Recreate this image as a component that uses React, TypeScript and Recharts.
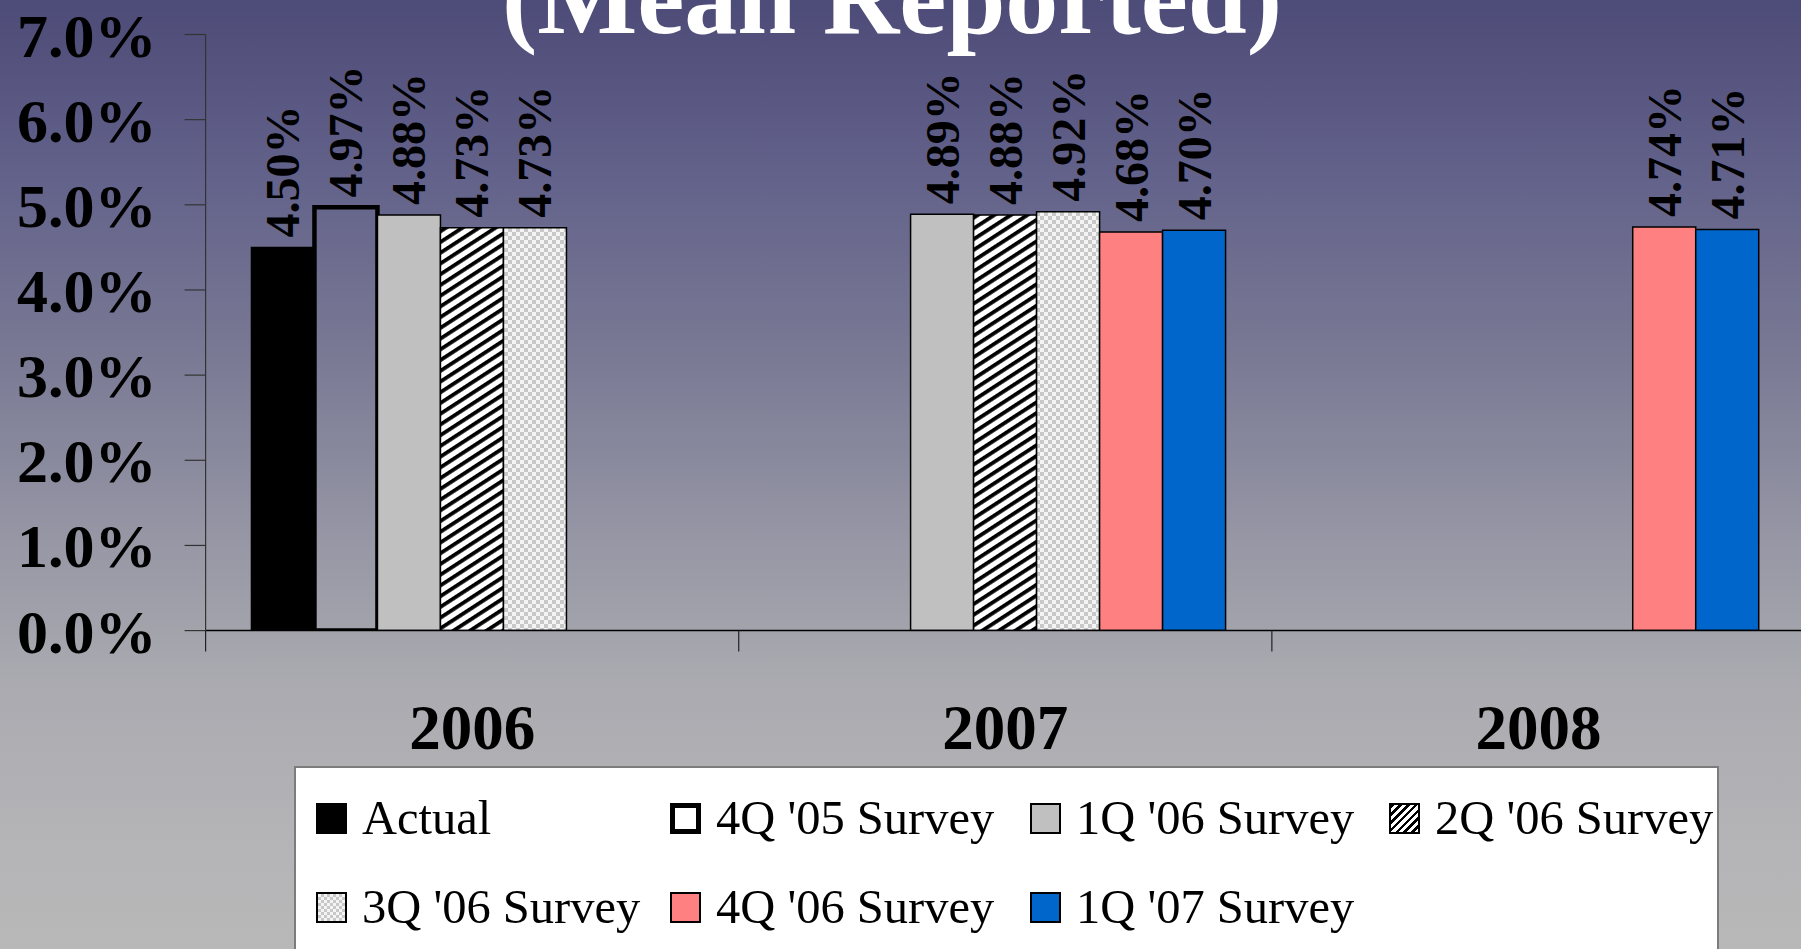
import React from 'react';
import { BarChart, Bar, XAxis, YAxis, Legend, LabelList } from 'recharts';

// ---- data ----
const categories = ['2006', '2007', '2008'];
const actual = [4.5, null, null];
const survey4Q05 = [4.97, null, null];
const survey1Q06 = [4.88, 4.89, null];
const survey2Q06 = [4.73, 4.88, null];
const survey3Q06 = [4.73, 4.92, null];
const survey4Q06 = [null, 4.68, 4.74];
const survey1Q07 = [null, 4.7, 4.71];
const seriesNames = [
  'Actual',
  "4Q '05 Survey",
  "1Q '06 Survey",
  "2Q '06 Survey",
  "3Q '06 Survey",
  "4Q '06 Survey",
  "1Q '07 Survey",
];
const yTicks = [0, 1, 2, 3, 4, 5, 6, 7];
const titleText = '(Mean Reported)';

const seriesValues = [actual, survey4Q05, survey1Q06, survey2Q06, survey3Q06, survey4Q06, survey1Q07];
const seriesKeys = seriesValues.map((_, i) => `s${i}`);
const chartData = categories.map((c, i) => {
  const row: Record<string, any> = { category: c };
  seriesValues.forEach((vals, j) => {
    row[seriesKeys[j]] = vals[i];
  });
  return row;
});

// ---- styles ----
const FONT = '"Liberation Serif", "Times New Roman", serif';
const seriesStyles = [
  { fill: '#000000', stroke: '#000000', strokeWidth: 1.5, swatchFill: '#000000', swatchBorder: 2 },
  { fill: 'none', stroke: '#000000', strokeWidth: 4.5, swatchFill: '#ffffff', swatchBorder: 5 },
  { fill: '#c0c0c0', stroke: '#000000', strokeWidth: 1.5, swatchFill: '#c0c0c0', swatchBorder: 2 },
  { fill: 'url(#hatchPat)', stroke: '#000000', strokeWidth: 1.5, swatchFill: 'hatch', swatchBorder: 2 },
  { fill: 'url(#checkPat)', stroke: '#000000', strokeWidth: 1.5, swatchFill: 'check', swatchBorder: 2 },
  { fill: '#ff8080', stroke: '#000000', strokeWidth: 1.5, swatchFill: '#ff8080', swatchBorder: 2 },
  { fill: '#0066cc', stroke: '#000000', strokeWidth: 1.5, swatchFill: '#0066cc', swatchBorder: 2 },
];

const W = 1801;
const H = 949;
const CHART_W = 1805;
const PLOT_LEFT = 205.6;
const PLOT_TOP = 34.5;
const PLOT_BOTTOM = 630.6;
const Y_AXIS_W = 180;
const X_AXIS_H = 150;

const legendCols = [22, 376, 736, 1095];
const legendRows = [52, 141];

const swatchBackground = (f: string) => {
  if (f === 'hatch') {
    return 'repeating-linear-gradient(135deg, #000 0px, #000 2.5px, #fff 2.5px, #fff 5.5px)';
  }
  if (f === 'check') {
    return 'repeating-conic-gradient(#c8c8c8 0% 25%, #f4f4f4 0% 50%) 0 0 / 6px 6px';
  }
  return f;
};

const renderLegend = () => (
  <div
    style={{
      position: 'relative',
      width: 1425,
      height: 260,
      boxSizing: 'border-box',
      background: '#ffffff',
      border: '2px solid #7c7c7c',
      fontFamily: FONT,
      fontSize: 48.5,
      color: '#000',
    }}
  >
    {seriesNames.map((name, i) => {
      const col = i % 4;
      const row = Math.floor(i / 4);
      const st = seriesStyles[i];
      return (
        <div
          key={name}
          style={{
            position: 'absolute',
            left: legendCols[col] - 2,
            top: legendRows[row] - 2 - 30,
            height: 60,
            display: 'flex',
            alignItems: 'center',
            whiteSpace: 'nowrap',
          }}
        >
          <div
            style={{
              width: 31,
              height: 31,
              boxSizing: 'border-box',
              border: `${st.swatchBorder}px solid #000`,
              background: swatchBackground(st.swatchFill),
              marginRight: 15,
              flex: 'none',
            }}
          />
          <span style={{ lineHeight: '60px' }}>{name}</span>
        </div>
      );
    })}
  </div>
);

const renderValueLabel = (props: any) => {
  const { x, y, width, value } = props;
  if (value === null || value === undefined) return null;
  const cx = Number(x) + Number(width) / 2;
  const ty = Number(y) - 10;
  return (
    <text
      x={cx}
      y={ty}
      transform={`rotate(-90 ${cx} ${ty})`}
      textAnchor="start"
      dominantBaseline="central"
      fontFamily={FONT}
      fontWeight="bold"
      fontSize={48}
      fill="#000"
    >
      {`${Number(value).toFixed(2)}%`}
    </text>
  );
};

const CategoryTick = (props: any) => {
  const { x, y, payload } = props;
  const fallbackHalf = (CHART_W - PLOT_LEFT) / categories.length / 2;
  const half = payload && typeof payload.offset === 'number' && payload.offset > 10 ? payload.offset : fallbackHalf;
  return (
    <g>
      <line x1={x - half} x2={x - half} y1={y} y2={y + 21} stroke="#222" strokeWidth={1.2} />
      <text
        x={x}
        y={y + 118}
        textAnchor="middle"
        fontFamily={FONT}
        fontWeight="bold"
        fontSize={63}
        fill="#000"
      >
        {payload.value}
      </text>
    </g>
  );
};

export default function App() {
  return (
    <div
      style={{
        position: 'fixed',
        left: 0,
        top: 0,
        width: W,
        height: H,
        overflow: 'hidden',
        background:
          'linear-gradient(to bottom, #4d4b77 0%, #62618a 18%, #7a7a95 38%, #9898a6 58%, #aaaab0 72%, #b4b4b7 88%, #b8b8b8 100%)',
      }}
    >
      <BarChart
        width={CHART_W}
        height={H}
        data={chartData}
        margin={{
          top: PLOT_TOP,
          right: 0,
          left: PLOT_LEFT - Y_AXIS_W,
          bottom: H - PLOT_BOTTOM - X_AXIS_H,
        }}
        barCategoryGap="8.6%"
        barGap={0}
      >
        <defs>
          <pattern id="hatchPat" patternUnits="userSpaceOnUse" width="9" height="9" patternTransform="rotate(57)">
            <rect x="0" y="0" width="9" height="9" fill="#ffffff" />
            <rect x="0" y="0" width="3.8" height="9" fill="#000000" />
          </pattern>
          <pattern id="checkPat" patternUnits="userSpaceOnUse" width="8" height="8">
            <rect x="0" y="0" width="8" height="8" fill="#f4f4f4" />
            <rect x="0" y="0" width="4" height="4" fill="#c8c8c8" />
            <rect x="4" y="4" width="4" height="4" fill="#c8c8c8" />
          </pattern>
        </defs>
        <XAxis
          dataKey="category"
          height={X_AXIS_H}
          tickSize={0}
          tickMargin={0}
          tickLine={false}
          axisLine={{ stroke: '#000', strokeWidth: 1.5 }}
          tick={<CategoryTick />}
          interval={0}
        />
        <YAxis
          type="number"
          width={Y_AXIS_W}
          domain={[0, 7]}
          ticks={yTicks}
          interval={0}
          allowDataOverflow
          tickFormatter={(v: number) => `${v.toFixed(1)}%`}
          tickSize={21}
          tickMargin={28}
          axisLine={{ stroke: '#333', strokeWidth: 1.2 }}
          tickLine={{ stroke: '#333', strokeWidth: 1.2 }}
          tick={{ fontFamily: FONT, fontWeight: 'bold', fontSize: 62, fill: '#000' }}
        />
        <Legend
          layout="horizontal"
          verticalAlign="middle"
          align="center"
          wrapperStyle={{ left: 294, top: 766, width: 1425, height: 260 }}
          content={renderLegend}
        />
        {seriesKeys.map((k, i) => (
          <Bar
            key={k}
            dataKey={k}
            name={seriesNames[i]}
            fill={seriesStyles[i].fill}
            stroke={seriesStyles[i].stroke}
            strokeWidth={seriesStyles[i].strokeWidth}
            isAnimationActive={false}
          >
            <LabelList dataKey={k} content={renderValueLabel} />
          </Bar>
        ))}
      </BarChart>
      <svg
        width={W}
        height={H}
        style={{ position: 'absolute', left: 0, top: 0, pointerEvents: 'none' }}
      >
        <text
          x={892}
          y={33}
          textAnchor="middle"
          fontFamily={FONT}
          fontWeight="bold"
          fontSize={106}
          fill="#ffffff"
        >
          {titleText}
        </text>
      </svg>
    </div>
  );
}
